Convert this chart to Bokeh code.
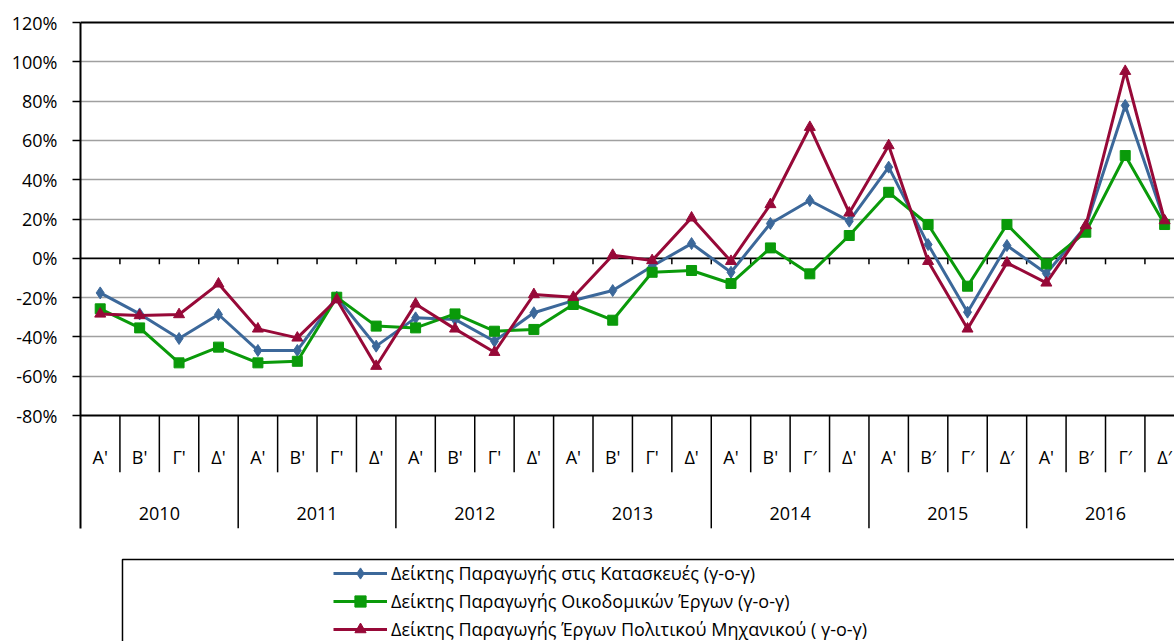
from bokeh.plotting import figure
from bokeh.models import (Range1d, FixedTicker, PrintfTickFormatter, Legend,
                          LegendItem, ColumnDataSource)
from bokeh.core.properties import value
from bokeh.embed import file_html
from bokeh.resources import INLINE

# ---------------- data ----------------
years = ["2010", "2011", "2012", "2013", "2014", "2015", "2016"]
quarter_labels = (["Α'", "Β'", "Γ'", "Δ'"] * 4
                  + ["Α'", "Β'", "Γ′", "Δ'"]
                  + ["Α'", "Β′", "Γ′", "Δ′"] * 2)

construction = [-17.6, -28.3, -40.8, -28.6, -46.9, -46.9, -19.8, -44.7,
                -30.3, -31.1, -42.2, -27.7, -21.5, -16.4, -4.0, 7.5,
                -7.1, 17.7, 29.4, 18.9, 46.4, 7.0, -27.4, 6.5,
                -7.7, 16.3, 77.8, 18.9]
building = [-25.7, -35.4, -53.2, -45.2, -53.2, -52.4, -19.8, -34.5,
            -35.4, -28.3, -37.1, -36.2, -23.5, -31.5, -7.1, -6.2,
            -12.8, 5.3, -7.9, 11.6, 33.6, 17.2, -14.2, 17.2,
            -2.8, 13.3, 52.3, 17.2]
civil = [-28.3, -29.1, -28.6, -13.0, -35.9, -40.5, -21.0, -54.9,
         -23.2, -35.9, -47.8, -18.4, -19.8, 1.6, -1.1, 20.6,
         -1.5, 27.4, 66.7, 23.1, 57.4, -1.5, -35.9, -2.3,
         -12.5, 16.7, 95.2, 19.2]

series_names = ["Δείκτης Παραγωγής στις Κατασκευές (γ-ο-γ)",
                "Δείκτης Παραγωγής Οικοδομικών Έργων (γ-ο-γ)",
                "Δείκτης Παραγωγής Έργων Πολιτικού Μηχανικού ( γ-ο-γ)"]
y_ticks = [-80, -60, -40, -20, 0, 20, 40, 60, 80, 100, 120]

# ---------------- style ----------------
FONT = "Open Sans"
BLUE = "#3c689a"
GREEN = "#0a9a0a"
RED = "#970938"

n = len(quarter_labels)
x = [i + 0.5 for i in range(n)]

p = figure(width=1174, height=641, output_backend="svg", toolbar_location=None,
           x_range=Range1d(0, 27.75), y_range=Range1d(-195.0, 122.04),
           x_axis_location=None, min_border_left=80, min_border_top=18,
           min_border_right=0, min_border_bottom=0)
p.outline_line_color = None
p.background_fill_color = "white"
p.border_fill_color = "white"
p.xgrid.visible = False

yax = p.yaxis[0]
yax.ticker = FixedTicker(ticks=y_ticks)
yax.formatter = PrintfTickFormatter(format="%d%%")
yax.bounds = (-137.4, 120)
yax.axis_line_color = "black"
yax.axis_line_width = 2
yax.major_tick_line_color = "black"
yax.major_tick_line_width = 1.5
yax.major_tick_out = 8
yax.major_tick_in = 0
yax.minor_tick_line_color = None
yax.major_label_standoff = 15
yax.major_label_text_font = FONT
yax.major_label_text_font_size = "18px"
yax.major_label_text_color = "black"

p.ygrid.ticker = FixedTicker(ticks=[t for t in y_ticks if t not in (-80, 0, 120)])
p.ygrid.grid_line_color = "#a0a0a0"
p.ygrid.grid_line_width = 1.6

# black horizontal lines: top, zero axis, bottom of plot area
for yv in (120, 0, -80):
    p.segment(x0=0, x1=n, y0=yv, y1=yv, line_color="black", line_width=1.8)

# tick marks on the zero line
bnd = list(range(1, n + 1))
p.segment(x0=bnd, x1=bnd, y0=[0] * len(bnd), y1=[-3.05] * len(bnd),
          line_color="black", line_width=1.5)

# category separators below the plot area
q_bnd = [b for b in range(1, n + 1) if b % 4 != 0]
y_bnd = [b for b in range(4, n + 1, 4)]
p.segment(x0=q_bnd, x1=q_bnd, y0=[-80] * len(q_bnd), y1=[-108.9] * len(q_bnd),
          line_color="black", line_width=1.5)
p.segment(x0=y_bnd, x1=y_bnd, y0=[-80] * len(y_bnd), y1=[-137.4] * len(y_bnd),
          line_color="black", line_width=1.5)

# category labels
p.text(x=x, y=[-101.2] * n, text=quarter_labels, text_align="center",
       text_baseline="middle", text_font=value(FONT), text_font_size="18px",
       text_color="black")
yx = [4 * i + 2 for i in range(len(years))]
p.text(x=yx, y=[-129.7] * len(years), text=years, text_align="center",
       text_baseline="middle", text_font=value(FONT), text_font_size="18px",
       text_color="black")

# legend frame
p.quad(left=1.065, right=40, top=-153.3, bottom=-400, fill_color=None,
       line_color="black", line_width=1.5)

# series
src = ColumnDataSource(dict(x=x, a=construction, b=building, c=civil))
l1 = p.line("x", "a", source=src, color=BLUE, line_width=3)
m1 = p.scatter("x", "a", source=src, marker="diamond", size=12, color=BLUE)
l2 = p.line("x", "b", source=src, color=GREEN, line_width=3)
m2 = p.scatter("x", "b", source=src, marker="square", size=10, color=GREEN)
l3 = p.line("x", "c", source=src, color=RED, line_width=3)
m3 = p.scatter("x", "c", source=src, marker="triangle", size=11, color=RED)

legend = Legend(items=[LegendItem(label=series_names[0], renderers=[l1, m1]),
                       LegendItem(label=series_names[1], renderers=[l2, m2]),
                       LegendItem(label=series_names[2], renderers=[l3, m3])],
                location=(253, -2), orientation="vertical",
                glyph_width=54, glyph_height=28, label_height=28,
                spacing=0, padding=0, margin=0, label_standoff=4,
                border_line_color=None, background_fill_alpha=0,
                label_text_font=FONT, label_text_font_size="18px",
                label_text_color="black")
p.add_layout(legend)

open("out.html", "w").write(file_html(p, INLINE))
